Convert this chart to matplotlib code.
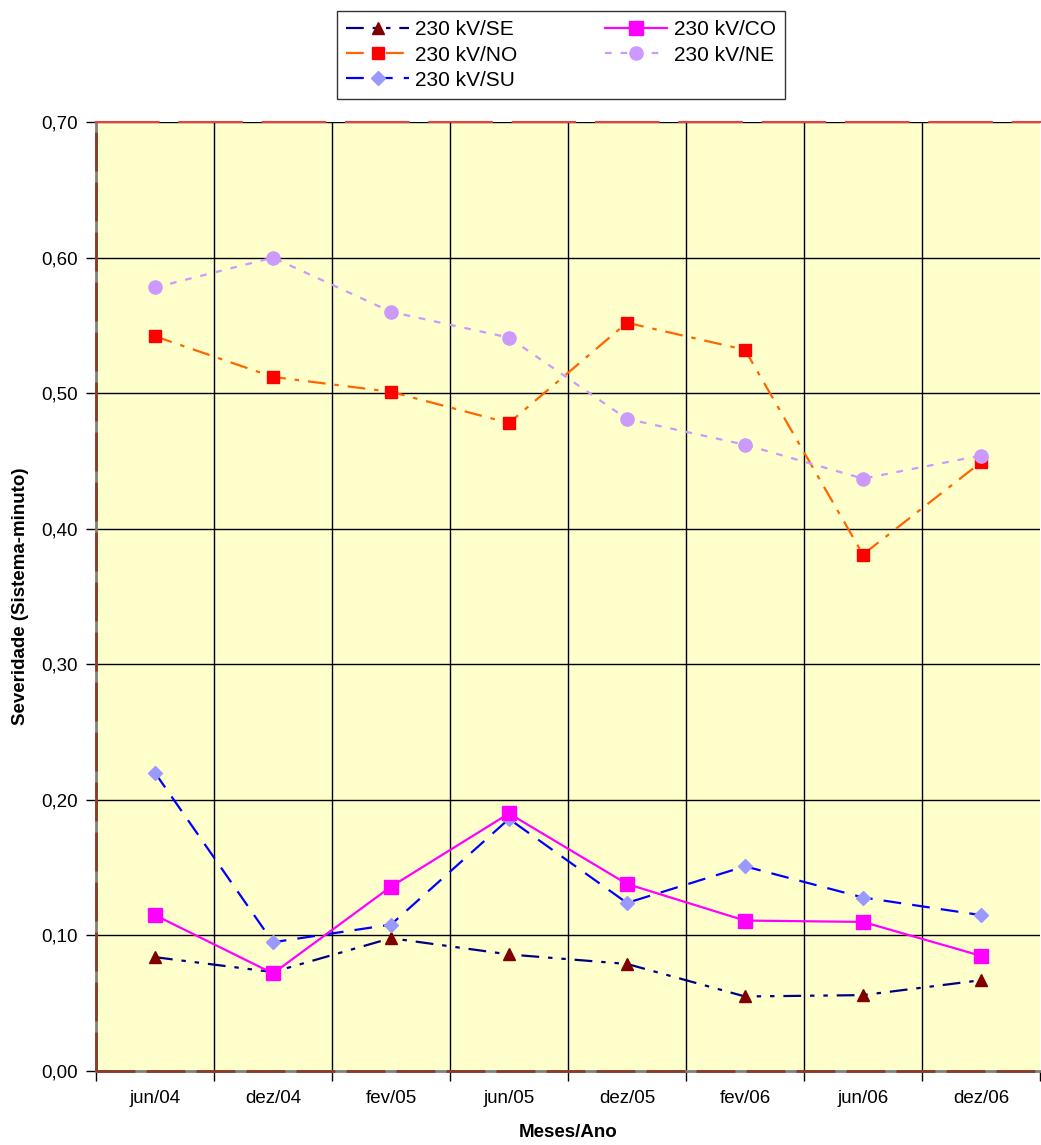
import numpy as np
import matplotlib.pyplot as plt
from matplotlib.ticker import FuncFormatter, FixedLocator

meses = ["jun/04", "dez/04", "fev/05", "jun/05", "dez/05", "fev/06", "jun/06", "dez/06"]

sev_se = [0.084, 0.073, 0.098, 0.086, 0.079, 0.055, 0.056, 0.067]
sev_no = [0.542, 0.512, 0.501, 0.478, 0.552, 0.532, 0.381, 0.449]
sev_su = [0.220, 0.095, 0.108, 0.186, 0.124, 0.151, 0.128, 0.115]
sev_co = [0.115, 0.072, 0.136, 0.190, 0.138, 0.111, 0.110, 0.085]
sev_ne = [0.578, 0.600, 0.560, 0.541, 0.481, 0.462, 0.437, 0.454]

plt.rcParams['font.family'] = ['Liberation Sans', 'DejaVu Sans']

fig = plt.figure(figsize=(10.41, 11.45), dpi=100)
ax = fig.add_axes([0.0922, 0.0646, 0.9068, 0.8288])
ax.set_facecolor("#FFFFCC")

x = np.arange(len(meses))

ax.plot(x, sev_se, color="#000080", lw=1.6, ls=(0, (8, 4, 2, 4, 2, 4)),
        marker="^", ms=9, mfc="#800000", mec="#800000", label="230 kV/SE", zorder=5)
ax.plot(x, sev_no, color="#FF6600", lw=1.6, ls=(0, (8, 4, 2, 4)),
        marker="s", ms=9, mfc="#FF0000", mec="#FF0000", label="230 kV/NO", zorder=5)
ax.plot(x, sev_su, color="#0000FF", lw=1.6, ls=(0, (8, 5)),
        marker="D", ms=7, mfc="#9999FF", mec="#9999FF", label="230 kV/SU", zorder=5)
ax.plot(x, sev_co, color="#FF00FF", lw=1.6, ls="-",
        marker="s", ms=9.5, mfc="#FF00FF", mec="#FF00FF", label="230 kV/CO", zorder=5)
ax.plot(x, sev_ne, color="#CC99FF", lw=1.6, ls=(0, (3, 4)),
        marker="o", ms=9.5, mfc="#CC99FF", mec="#CC99FF", label="230 kV/NE", zorder=5)

ax.set_xlim(-0.5, len(meses) - 0.5)
ax.set_ylim(0, 0.70)
ax.set_yticks(np.arange(0, 0.701, 0.1))
ax.yaxis.set_major_formatter(FuncFormatter(lambda v, p: f"{v:.2f}".replace(".", ",")))

# category labels in the middle, ticks and grid on the boundaries
ax.set_xticks(x)
ax.set_xticklabels(meses)
ax.tick_params(axis="x", which="major", length=0, pad=14)
ax.xaxis.set_minor_locator(FixedLocator(np.arange(-0.5, len(meses), 1.0)))
ax.tick_params(axis="x", which="minor", length=7, color="black", width=1)
ax.tick_params(axis="y", length=7, width=1, direction="out", pad=6)
ax.tick_params(labelsize=13.5)

ax.grid(False)
for b in np.arange(0.5, len(meses) - 0.5, 1.0):
    ax.axvline(b, color="black", lw=1, zorder=1)
for v in np.arange(0.1, 0.701, 0.1):
    ax.axhline(v, color="black", lw=1, zorder=1)

# axis lines: grey base with a dashed brown pattern over it
for side in ["left", "bottom"]:
    ax.spines[side].set_color("#808080")
    ax.spines[side].set_linewidth(2)
ax.plot([0, 0], [0, 1], transform=ax.transAxes, color="#8B3A2A", lw=2,
        ls=(0, (14, 4)), clip_on=False, zorder=6)
ax.plot([0, 1], [0, 0], transform=ax.transAxes, color="#8B3A2A", lw=2,
        ls=(0, (14, 4)), clip_on=False, zorder=6)
ax.spines["top"].set_color("#E84040")
ax.spines["top"].set_linewidth(1.5)
ax.spines["top"].set_linestyle((0, (30, 10)))
ax.spines["right"].set_visible(False)

ax.set_ylabel("Severidade (Sistema-minuto)", fontsize=13.5, fontweight="bold", labelpad=9)
ax.set_xlabel("Meses/Ano", fontsize=13.5, fontweight="bold", labelpad=12)

fig.legend(loc="upper center", bbox_to_anchor=(0.539, 0.9905), borderaxespad=0,
           ncol=2, fontsize=15, frameon=True, fancybox=False, edgecolor="black",
           columnspacing=4.2, handlelength=3.0, handletextpad=0.3,
           borderpad=0.45, labelspacing=0.3)

fig.savefig("out.png", dpi=100)
